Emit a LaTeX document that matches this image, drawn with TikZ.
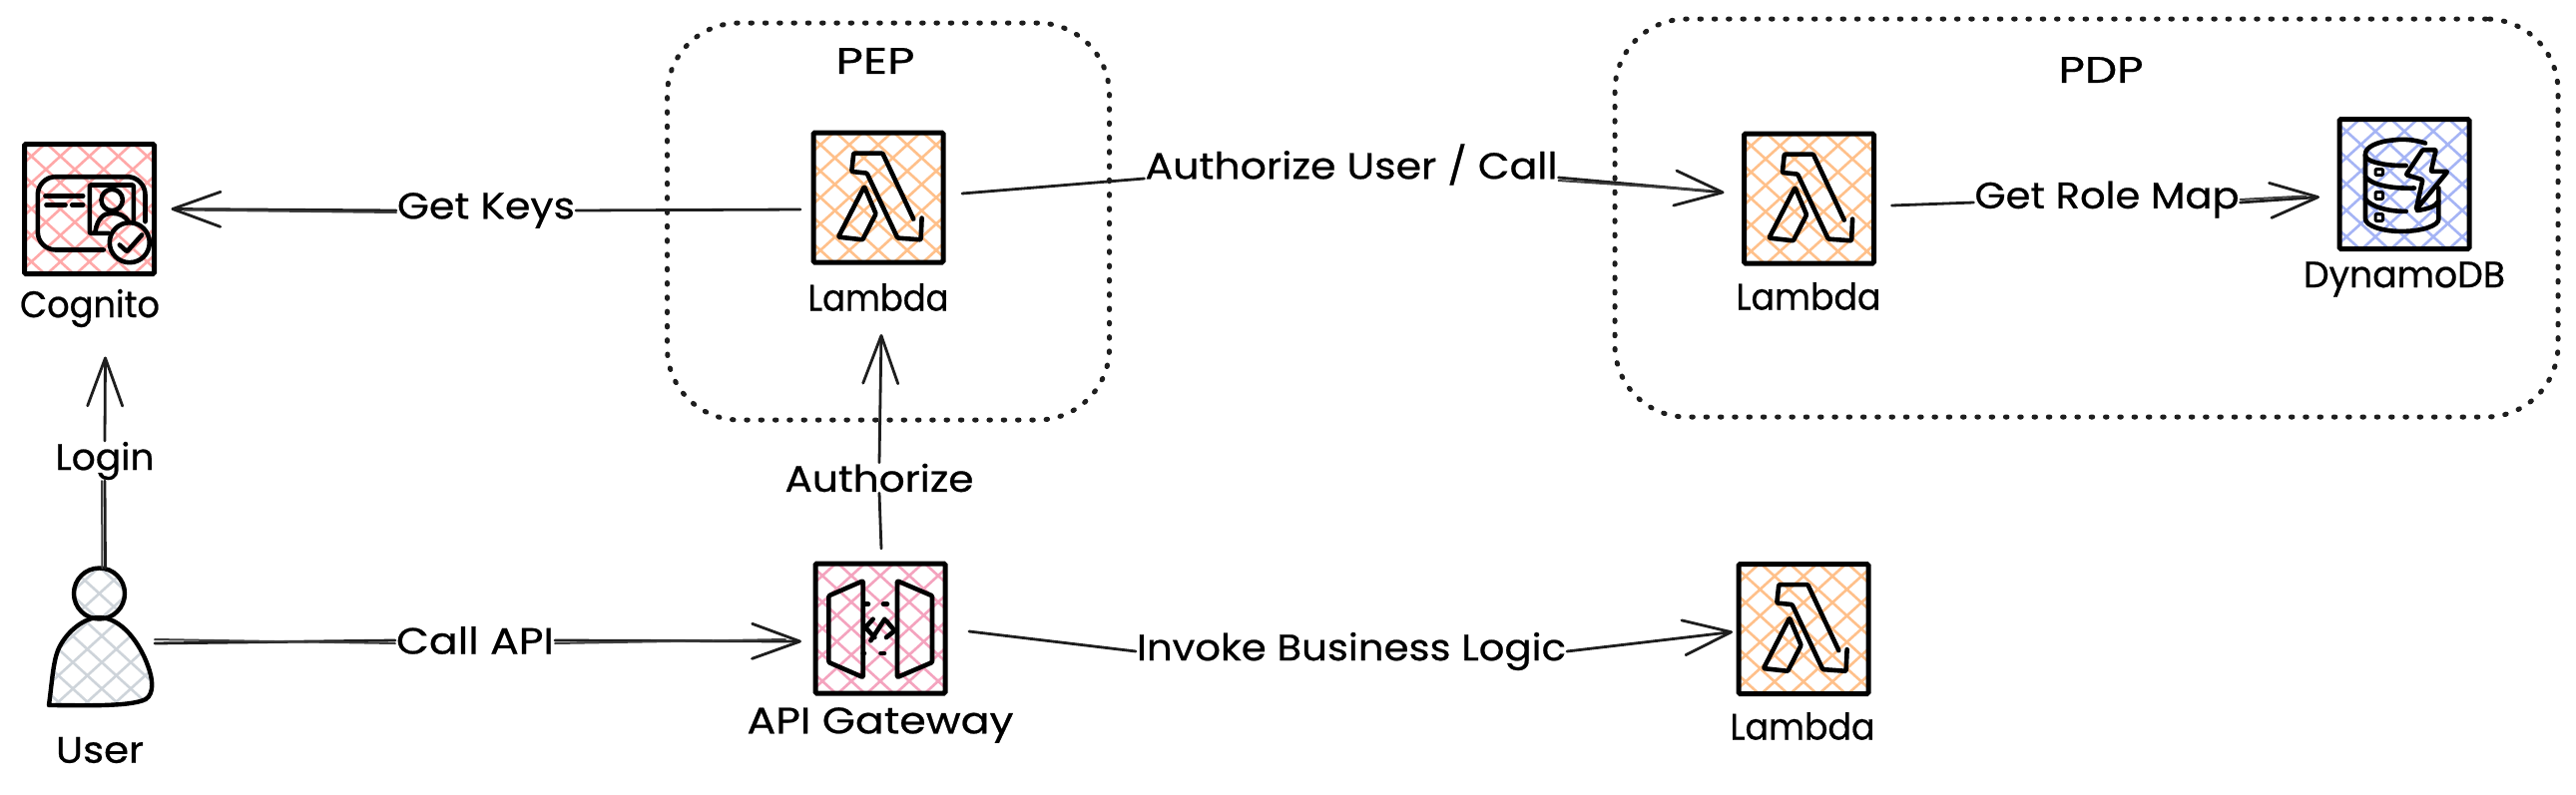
\documentclass[tikz,border=0pt]{standalone}
\usepackage{graphicx}
\usepackage{fontspec}
\newfontfamily\lblfont[FakeBold=0.6]{Poppins}
\setmainfont{Poppins}
\usetikzlibrary{calc,arrows.meta}
\definecolor{ink}{HTML}{1E1E1E}
\definecolor{hRed}{HTML}{FFA8A8}
\definecolor{hPink}{HTML}{F4A3BE}
\definecolor{hOrange}{HTML}{FFC08A}
\definecolor{hBlue}{HTML}{A5B4F5}
\definecolor{hGray}{HTML}{CED4DA}
\newcommand\wtext[2]{\resizebox{#1pt}{\height}{#2}}
\tikzset{
  hatched/.style={path picture={
    \begin{scope}[shift={(path picture bounding box.center)},line width=2.6pt,color=#1,line cap=round]
      \foreach \i in {-12,...,12}{
        \draw (-170+\i*29,-155) -- (170+\i*29,155);
        \draw (-170+\i*29,155) -- (170+\i*29,-155);
      }
    \end{scope}}},
  iconbox/.style={draw=black,line width=5pt,rounded corners=1.5pt,minimum size=130pt,inner sep=0pt,outer sep=0pt,hatched=#1},
  iconline/.style={draw=black,line width=4.6pt,line join=round,line cap=round,rounded corners=1pt},
  conn/.style={draw=ink,line width=2.8pt,line cap=round,line join=round},
  conndup/.style={draw=ink!85,line width=2pt,line cap=round},
  tip/.style={-{Straight Barb[length=48pt,width=35pt,line width=2.8pt,round]}},
  lbl/.style={font=\lblfont\fontsize{37}{40}\selectfont,text=black,inner sep=0pt,outer sep=1pt,anchor=center},
  zone/.style={draw=ink,line width=5pt,line cap=round,dash pattern=on 1.5pt off 12.8pt,rounded corners=72pt,inner sep=0pt},
}
\newcommand\lambdaicon[1]{\begin{scope}[shift={(#1.north west)}]
  \draw[iconline] (100.3,86.6) -- (69.3,20.6) -- (40.3,20.6) -- (38.3,39) -- (53.6,40.6) -- (84.3,105.6) -- (107.6,107.3) -- (108.6,85.6);
  \draw[iconline] (51,54) -- (25,104.6) -- (49.3,107.3) -- (62.6,81.3) -- cycle;
\end{scope}}
\newcommand\cognitoicon[1]{\begin{scope}[shift={(#1.north west)}]
  \draw[iconline,rounded corners=18pt] (79.3,106) -- (13.3,106) -- (13.3,32.7) -- (121,32.7) -- (121,77.7);
  \draw[iconline] (84.3,89.3) -- (65.3,89.3) -- (65.3,41) -- (109.3,41) -- (109.3,79.3);
  \draw[iconline] (87.7,56) circle (10.7);
  \draw[iconline] (71,87.7) .. controls (73,74) and (80,69.3) .. (87.7,69.3) .. controls (95,69.3) and (101,72) .. (104.3,77.7);
  \draw[iconline] (105.3,98.7) circle (20);
  \draw[iconline] (95.3,101) -- (102.7,107.7) -- (117.7,91);
  \draw[iconline] (21,52) -- (58.7,52) (22,61) -- (41,61) (47.7,61) -- (58.7,61);
\end{scope}}
\newcommand\gatewayicon[1]{\begin{scope}[shift={(#1.north west)}]
  \draw[iconline] (13.4,32.3) -- (47.7,17.3) -- (47.7,114) -- (13.4,99) -- cycle;
  \draw[iconline] (82,17.3) -- (117,32.3) -- (117,99) -- (82,114) -- cycle;
  \draw[iconline] (49,40.7) -- (53,40.7) (68,40.7) -- (72,40.7) (47.7,90) -- (49,90) (65.5,90) -- (69,90);
  \draw[iconline] (57.7,55.7) -- (50,64) -- (59.4,74);
  \draw[iconline] (55.4,77.3) -- (69.4,55.7);
  \draw[iconline] (71,57.3) -- (79.4,67.3) -- (71,74);
\end{scope}}
\newcommand\dynamoicon[1]{\begin{scope}[shift={(#1.north west)}]
  \draw[iconline] (86,24) .. controls (74,20) and (62,20) .. (56.7,20.7) .. controls (38,22) and (26,28) .. (26,35.7) .. controls (26,42) and (44,47) .. (66.7,46.5);
  \draw[iconline] (26,35.7) -- (26,99) .. controls (26,107) and (44,112.4) .. (61.7,112.4) .. controls (82,112.4) and (99.4,107) .. (99.4,99) -- (99.4,69);
  \draw[iconline] (26,58) .. controls (32,65) and (50,70) .. (75,69);
  \draw[iconline] (26,80) .. controls (32,88) and (48,92.4) .. (66.7,92.4);
  \draw[iconline] (99.4,82) .. controls (96,88) and (88,90) .. (78,91.5);
  \draw[iconline,line width=3pt] (36,50) rectangle (43.5,56) (36,73) rectangle (43.5,80) (36,95) rectangle (43.5,102);
  \draw[iconline] (83.4,30.7) -- (96.7,30.7) -- (91.7,52.4) -- (108.4,52.4) -- (76.7,90.7) -- (83.4,60.7) -- (66.7,55.7) -- cycle;
\end{scope}}
\begin{document}
\begin{tikzpicture}[x=1pt,y=-1pt]
\useasboundingbox (0,0) rectangle (2581,796);
\fill[white] (0,0) rectangle (2581,796);

% zones
\node[zone,minimum width=443pt,minimum height=398pt] (pep) at (890,222) {};
\node[zone,minimum width=945pt,minimum height=399pt] (pdp) at (2090.5,218.5) {};
\node[lbl] (pepLbl) at (877,61) {\wtext{79}{PEP}};
\node[lbl] (pdpLbl) at (2105,70) {\wtext{85}{PDP}};

% icons
\node[iconbox=hRed] (cognito) at (89.5,209.5) {};
\cognitoicon{cognito}
\node[lbl] (cognitoLbl) at (90,309) {\wtext{140}{Cognito}};

\node[iconbox=hOrange] (lambdaPep) at (880,198) {};
\lambdaicon{lambdaPep}
\node[lbl] (lambdaPepLbl) at (880,298) {\wtext{141}{Lambda}};

\node[iconbox=hOrange] (lambdaPdp) at (1812.5,199) {};
\lambdaicon{lambdaPdp}
\node[lbl] (lambdaPdpLbl) at (1812,297) {\wtext{145}{Lambda}};

\node[iconbox=hOrange] (lambdaBiz) at (1807,630.5) {};
\lambdaicon{lambdaBiz}
\node[lbl] (lambdaBizLbl) at (1806,728) {\wtext{145}{Lambda}};

\node[iconbox=hBlue] (dynamo) at (2409,184.5) {};
\dynamoicon{dynamo}
\node[lbl] (dynamoLbl) at (2409,280) {\wtext{202}{DynamoDB}};

\node[iconbox=hPink] (gateway) at (882,630) {};
\gatewayicon{gateway}
\node[lbl] (gatewayLbl) at (882,727) {\wtext{267}{API Gateway}};

% user
\node[inner sep=0pt,outer sep=0pt,minimum width=104pt,minimum height=134pt] (user) at (101,640) {};
\node[circle,draw=black,line width=4.4pt,minimum size=51pt,inner sep=0pt,outer sep=0pt,hatched=hGray] (userHead) at (99.5,595) {};
\path[draw=black,line width=4.4pt,line join=round,hatched=hGray]
  (49,707) .. controls (52,685) and (53,665) .. (58,652) .. controls (66,633) and (85,619) .. (99,619)
  .. controls (122,619) and (140,645) .. (148,667) .. controls (153,680) and (155,695) .. (146,701)
  .. controls (130,709) and (80,707) .. (49,707) -- cycle;
\node[lbl] (userLbl) at (100,752) {\wtext{88}{User}};

% connector labels
\node[lbl] (keysLbl) at (487,211) {\wtext{178}{Get Keys}};
\node[lbl] (loginLbl) at (105,462) {\wtext{99}{Login}};
\node[lbl] (callLbl) at (476,642) {\wtext{158}{Call API}};
\node[lbl] (authLbl) at (881,479) {\wtext{189}{Authorize}};
\node[lbl] (invokeLbl) at (1354,653) {\wtext{430}{Invoke Business Logic}};
\node[lbl] (authUserLbl) at (1354,165) {\wtext{413}{Authorize User / Call}};
\node[lbl] (roleLbl) at (2111,200) {\wtext{265}{Get Role Map}};

% connectors
\draw[conn] ($(lambdaPep.west)+(-13,12)$) -- (keysLbl.east);
\draw[conn,tip] (keysLbl.west) -- ($(cognito.east)+(17,0)$);
\draw[conndup] ([yshift=-2pt]keysLbl.west) -- ([yshift=-1pt]$(cognito.east)+(30,0)$);

\draw[conn] ($(userHead.north)+(6,0)$) -- (loginLbl.south);
\draw[conndup] ($(userHead.north)+(3,0)$) -- ([xshift=-3pt]loginLbl.south);
\draw[conn,tip] (loginLbl.north) -- ($(cognito.south)+(16,83)$);

\draw[conn] ($(user.east)+(2,5)$) -- (callLbl.west);
\draw[conndup] ($(user.east)+(2,1)$) -- ([yshift=-3pt]callLbl.west);
\draw[conn,tip] (callLbl.east) -- ($(gateway.west)+(-14,13)$);
\draw[conndup] ([yshift=-3pt]callLbl.east) -- ($(gateway.west)+(-30,11)$);

\draw[conn] ($(gateway.north)+(1,-15)$) -- (authLbl.south);
\draw[conn,tip] (authLbl.north) -- ($(lambdaPep.south)+(3,72)$);

\draw[conn] ($(lambdaPep.east)+(19,-4)$) -- (authUserLbl.west |- 0,179);
\draw[conn,tip] (authUserLbl.east |- 0,178) -- ($(lambdaPdp.west)+(-20,-6)$);
\draw[conndup] (authUserLbl.east |- 0,181) -- ($(lambdaPdp.west)+(-36,-8)$);

\draw[conn] ($(lambdaPdp.east)+(18,7)$) -- (roleLbl.west |- 0,203);
\draw[conn,tip] (roleLbl.east |- 0,203) -- ($(dynamo.west)+(-20,13)$);
\draw[conndup] (roleLbl.east |- 0,200) -- ($(dynamo.west)+(-34,12)$);

\draw[conn] ($(gateway.east)+(24,3)$) -- (invokeLbl.west);
\draw[conn,tip] (invokeLbl.east) -- ($(lambdaBiz.west)+(-6,3)$);
\end{tikzpicture}
\end{document}
